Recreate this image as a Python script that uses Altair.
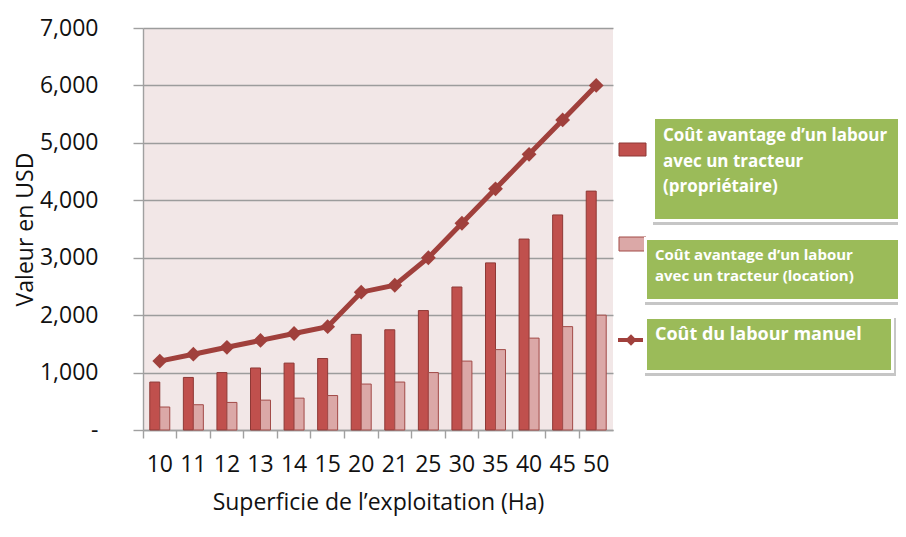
import altair as alt
import pandas as pd

# ---- data -------------------------------------------------------------
HA = ["10", "11", "12", "13", "14", "15", "20", "21", "25", "30", "35", "40", "45", "50"]
PROPRIETAIRE = [835, 915, 1000, 1080, 1165, 1245, 1665, 1745, 2080, 2490, 2910, 3325, 3745, 4160]
LOCATION = [400, 440, 480, 520, 555, 600, 800, 835, 1000, 1200, 1400, 1600, 1800, 2000]
MANUEL = [1200, 1320, 1440, 1560, 1680, 1800, 2400, 2520, 3000, 3600, 4200, 4800, 5400, 6000]
SERIES = ["propriétaire", "location"]
Y_TICKS = [0, 1000, 2000, 3000, 4000, 5000, 6000, 7000]
BOX1_LINES = ["Coût avantage d’un labour", "avec un tracteur", "(propriétaire)"]
BOX2_LINES = ["Coût avantage d’un labour", "avec un tracteur (location)"]
BOX3_LINES = ["Coût du labour manuel"]

DARK = "#C0504D"
LIGHT = "#DBA8A7"
LINE = "#A0403C"
GREEN = "#9BBB59"
FONT = "Open Sans"

bars_df = pd.DataFrame(
    [{"ha": h, "serie": SERIES[0], "v": v} for h, v in zip(HA, PROPRIETAIRE)]
    + [{"ha": h, "serie": SERIES[1], "v": v} for h, v in zip(HA, LOCATION)]
)
line_df = pd.DataFrame({"ha": HA, "v": MANUEL})
one = pd.DataFrame({"k": [0]})

x_enc = alt.X(
    "ha:O",
    scale=alt.Scale(domain=HA, paddingInner=0, paddingOuter=0),
    axis=alt.Axis(
        title="Superficie de l’exploitation (Ha)",
        labelAngle=0,
        labelOverlap=False,
        bandPosition=0,
        tickSize=8,
        labelPadding=15,
        titlePadding=15,
        grid=False,
    ),
)
y_enc = alt.Y(
    "v:Q",
    scale=alt.Scale(domain=[0, 7000], nice=False),
    axis=alt.Axis(
        title="Valeur en USD",
        values=Y_TICKS,
        labelExpr="datum.value == 0 ? '-' : format(datum.value, ',')",
        tickSize=10,
        labelPadding=35,
        titlePadding=2,
        grid=True,
    ),
)

bars = alt.Chart(bars_df).mark_bar(strokeWidth=1).encode(
    x=x_enc,
    xOffset=alt.XOffset("serie:N", scale=alt.Scale(domain=SERIES, paddingInner=0, paddingOuter=0.68)),
    y=y_enc,
    color=alt.Color("serie:N", scale=alt.Scale(domain=SERIES, range=[DARK, LIGHT]), legend=None),
    stroke=alt.Stroke("serie:N", scale=alt.Scale(domain=SERIES, range=["#8E3936", "#A24A47"]), legend=None),
)

line = alt.Chart(line_df).mark_line(
    color=LINE, strokeWidth=5,
    point=alt.OverlayMarkDef(shape="diamond", size=220, filled=True, color=LINE),
).encode(x=alt.X("ha:O"), y=alt.Y("v:Q"))


def rect(x, x2, y, y2, color, opacity=1.0):
    return alt.Chart(one).mark_rect(color=color, opacity=opacity).encode(
        x=alt.value(x), x2=alt.value(x2), y=alt.value(y), y2=alt.value(y2)
    )


def texts(lines, x, y0, dy, size):
    return [
        alt.Chart(one).mark_text(
            align="left", baseline="middle", font=FONT, fontWeight="bold",
            fontSize=size, color="white",
        ).encode(x=alt.value(x), y=alt.value(y0 + i * dy), text=alt.value(t))
        for i, t in enumerate(lines)
    ]


# legend swatches (underlying legend)
sw1 = alt.Chart(one).mark_rect(color=DARK, stroke="#8E3936", strokeWidth=1).encode(
    x=alt.value(476), x2=alt.value(503), y=alt.value(115), y2=alt.value(128))
sw2 = alt.Chart(one).mark_rect(color=LIGHT, stroke="#A24A47", strokeWidth=1).encode(
    x=alt.value(476), x2=alt.value(503), y=alt.value(209), y2=alt.value(223))
sw3 = alt.Chart(one).mark_rule(color=LINE, strokeWidth=4).encode(
    x=alt.value(475), x2=alt.value(500), y=alt.value(312))
sw3p = alt.Chart(one).mark_point(shape="diamond", size=130, filled=True, color=LINE, opacity=1).encode(
    x=alt.value(488), y=alt.value(312))

boxes = []
for (gx, gx2, gy, gy2) in [(512, 770, 91, 191), (504, 756, 212, 271), (504, 748, 291, 342)]:
    boxes += [
        rect(gx - 2, gx2 + 5, gy - 1, gy2 + 6, "#B8B8B8", 0.8),
        rect(gx - 3, gx2 + 3, gy - 3, gy2 + 3, "#FFFFFF"),
        rect(gx, gx2, gy, gy2, GREEN),
    ]

labels = (
    texts(BOX1_LINES, 520, 108, 25.5, 17)
    + texts(BOX2_LINES, 512, 227, 21, 15)
    + texts(BOX3_LINES, 512, 307, 21, 18)
)

chart = alt.layer(bars, line, sw1, sw2, sw3, sw3p, *boxes, *labels).properties(
    width=470, height=402,
    autosize=alt.AutoSizeParams(type="none"),
    padding={"left": 135, "top": 20, "right": 285, "bottom": 99},
    background="white",
).configure_view(fill="#F2E7E7", strokeWidth=0).configure_axis(
    labelFont=FONT, titleFont=FONT, labelFontSize=23, titleFontSize=23,
    titleFontWeight="normal", labelColor="#111111", titleColor="#111111",
    domainColor="#A0A0A0", tickColor="#A0A0A0", gridColor="#9C9C9C",
    gridWidth=1.4, domainWidth=1.4, tickWidth=1.4,
)

chart.save("out.html", embed_options={"renderer": "svg", "actions": False})
